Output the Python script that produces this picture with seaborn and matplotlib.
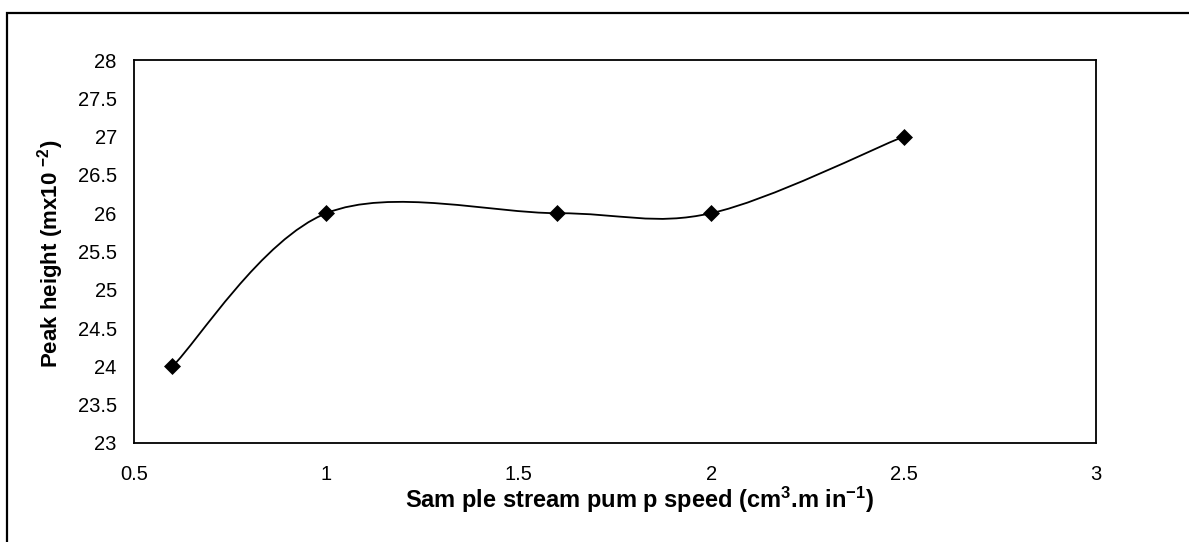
import numpy as np
import matplotlib
matplotlib.use("Agg")
import matplotlib.pyplot as plt
import seaborn as sns
from matplotlib.path import Path
from matplotlib.patches import PathPatch, Rectangle

# ---- data ----
pump_speed = [0.6, 1.0, 1.6, 2.0, 2.5]
peak_height = [24, 26, 26, 26, 27]

x_ticks = [0.5, 1.0, 1.5, 2.0, 2.5, 3.0]
x_tick_labels = ["0.5", "1", "1.5", "2", "2.5", "3"]
y_ticks = [23, 23.5, 24, 24.5, 25, 25.5, 26, 26.5, 27, 27.5, 28]
y_tick_labels = ["23", "23.5", "24", "24.5", "25", "25.5", "26", "26.5", "27", "27.5", "28"]

x_label = "Sam ple stream pum p speed (cm$^{3}$.m in$^{-1}$)"
y_label = "Peak height (mx10 $^{-2}$)"

# ---- style ----
sns.set_theme(style="white")
plt.rcParams['font.family'] = ['Liberation Sans', 'DejaVu Sans']
plt.rcParams['mathtext.fontset'] = 'custom'
plt.rcParams['mathtext.rm'] = 'Liberation Sans'
plt.rcParams['mathtext.bf'] = 'Liberation Sans:bold'
plt.rcParams['mathtext.default'] = 'bf'

W, H = 1189, 542
fig = plt.figure(figsize=(W / 100, H / 100), dpi=100)
fig.patch.set_facecolor('white')

# outer frame (only left and top edges visible in reference)
fig.patches.append(Rectangle((7 / W, -0.2), 2.0, (1 - 13 / H) + 0.2,
                             transform=fig.transFigure, fill=False,
                             edgecolor='black', linewidth=1.6))

ax = fig.add_axes([134 / W, 1 - 443 / H, (1096 - 134) / W, (443 - 60) / H])
ax.set_facecolor('white')

# smoothed line (Excel-style Catmull-Rom Bezier through the data points)
pts = np.column_stack([pump_speed, peak_height]).astype(float)
n = len(pts)
verts = [pts[0]]
codes = [Path.MOVETO]
for i in range(n - 1):
    p0 = pts[max(i - 1, 0)]
    p1 = pts[i]
    p2 = pts[i + 1]
    p3 = pts[min(i + 2, n - 1)]
    verts += [p1 + (p2 - p0) / 6.0, p2 - (p3 - p1) / 6.0, p2]
    codes += [Path.CURVE4] * 3
ax.add_patch(PathPatch(Path(verts, codes), fill=False, edgecolor='black',
                       linewidth=1.3, zorder=2))

sns.scatterplot(x=pump_speed, y=peak_height, marker='D', s=75, color='black',
                edgecolor='black', linewidth=0, zorder=3, ax=ax, legend=False)

ax.set_xlim(0.5, 3.0)
ax.set_ylim(23, 28)
ax.set_xticks(x_ticks)
ax.set_xticklabels(x_tick_labels)
ax.set_yticks(y_ticks)
ax.set_yticklabels(y_tick_labels)
ax.tick_params(axis='both', direction='out', length=3, width=1, color='black',
               labelsize=14.5, labelcolor='black')
ax.tick_params(axis='x', pad=12.5)
ax.tick_params(axis='y', pad=9.4)
ax.set_xlabel("")
ax.set_ylabel("")
for s in ax.spines.values():
    s.set_visible(True)
    s.set_color('black')
    s.set_linewidth(1.3)

fig.text(58 / W, 1 - 368 / H, y_label, rotation=90, rotation_mode='anchor',
         ha='left', va='baseline', fontsize=16, fontweight='bold', color='black')
fig.text(405 / W, 1 - 508 / H, x_label, ha='left', va='baseline',
         fontsize=17, fontweight='bold', color='black')

fig.savefig("out.png", dpi=100, facecolor='white')
